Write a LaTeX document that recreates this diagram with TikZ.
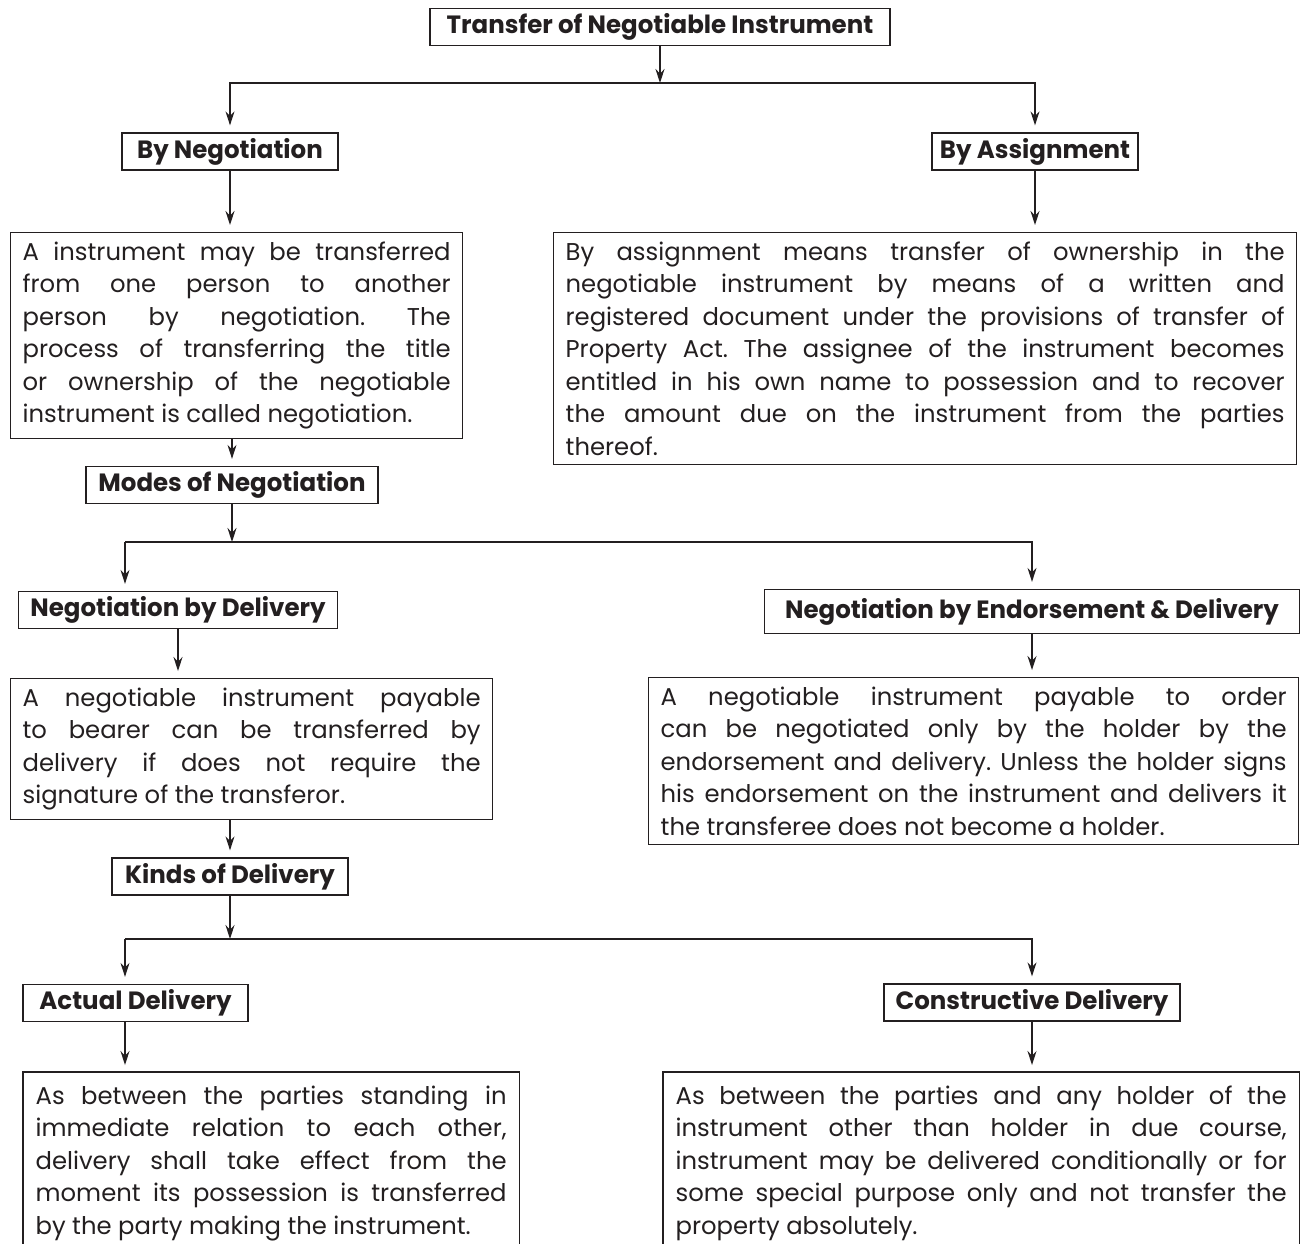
\documentclass[tikz,border=0pt]{standalone}
\usepackage{fontspec}
\setmainfont{Poppins}
\newfontfamily\headfont{Poppins}[FakeStretch=0.98]
\usetikzlibrary{arrows.meta}
\definecolor{ink}{HTML}{231F20}

\begin{document}
\begin{tikzpicture}[x=1pt,y=-1pt,line width=1.3pt,color=ink]
  \tikzstyle{h}=[draw,rectangle,inner sep=0pt,minimum height=37,font=\headfont\bfseries\fontsize{25}{28}\selectfont]
  \tikzstyle{t}=[draw,rectangle,anchor=north west,inner xsep=12pt,inner ysep=9pt,align=justify,
    font=\fontsize{24.3}{32.5}\selectfont,execute at begin node={\frenchspacing\hyphenpenalty=10000\tolerance=9999}]
  \tikzstyle{a}=[-{Stealth[length=14pt,width=9pt]},shorten >=7pt]
  \useasboundingbox (0,0) rectangle (1300,1243);
  \clip (0,0) rectangle (1300,1243);

  % headings
  \node[h,minimum width=460] (title) at (660,27) {Transfer of Negotiable Instrument};
  \node[h,minimum width=216] (byneg) at (230,151.5) {By Negotiation};
  \node[h,minimum width=206] (byass) at (1035,151.5) {By Assignment};
  \node[h,minimum width=292] (modes) at (232,485) {Modes of Negotiation};
  \node[h,minimum width=319] (nbd) at (178,610) {Negotiation by Delivery};
  \node[h,minimum width=535,minimum height=44] (nbed) at (1032,611.5) {Negotiation by Endorsement \& Delivery};
  \node[h,minimum width=236] (kinds) at (230,876.5) {Kinds of Delivery};
  \node[h,minimum width=225] (actual) at (135.5,1003) {Actual Delivery};
  \node[h,minimum width=296] (constr) at (1032,1002.5) {Constructive Delivery};

  % text boxes
  \node[t,text width=428] (tb1) at (10,232) {A instrument may be transferred\linebreak
    from one person to another\linebreak
    person by negotiation. The\linebreak
    process of transferring the title\linebreak
    or ownership of the negotiable\linebreak
    instrument is called negotiation.};
  \node[t,text width=719] (tb2) at (553,232) {By assignment means transfer of ownership in the\linebreak
    negotiable instrument by means of a written and\linebreak
    registered document under the provisions of transfer of\linebreak
    Property Act. The assignee of the instrument becomes\linebreak
    entitled in his own name to possession and to recover\linebreak
    the amount due on the instrument from the parties\linebreak
    thereof.};
  \node[t,text width=458] (tb3) at (10,678) {A negotiable instrument payable\linebreak
    to bearer can be transferred by\linebreak
    delivery if does not require the\linebreak
    signature of the transferor.};
  \node[t,text width=626] (tb4) at (648,677) {A negotiable instrument payable to order\linebreak
    can be negotiated only by the holder by the\linebreak
    endorsement and delivery. Unless the holder signs\linebreak
    his endorsement on the instrument and delivers it\linebreak
    the transferee does not become a holder.};
  % last row runs off the page
  \node[t,draw=none,text width=471,inner ysep=13pt] (tb5) at (23,1072) {As between the parties standing in\linebreak
    immediate relation to each other,\linebreak
    delivery shall take effect from the\linebreak
    moment its possession is transferred\linebreak
    by the party making the instrument.};
  \node[t,draw=none,text width=611,inner ysep=13pt] (tb6) at (663,1072) {As between the parties and any holder of the\linebreak
    instrument other than holder in due course,\linebreak
    instrument may be delivered conditionally or for\linebreak
    some special purpose only and not transfer the\linebreak
    property absolutely.};
  \draw ([yshift=-30pt]tb5.south west) rectangle (tb5.north east);
  \draw ([yshift=-30pt]tb6.south west) rectangle (tb6.north east);

  % junctions
  \coordinate (d1) at (125,542);
  \coordinate (d2) at (125,939);
  \coordinate (j1) at (660,83);
  \coordinate (j2) at (modes.south |- d1);
  \coordinate (j3) at (kinds.south |- d2);

  % connectors
  \draw[-{Stealth[length=14pt,width=9pt]}] (title) -- (j1);
  \draw[a] (j1) -| (byneg.north);
  \draw[a] (j1) -| (byass.north);
  \draw[a] (byneg) -- (byneg.south |- tb1.north);
  \draw[a] (byass) -- (byass.south |- tb2.north);
  \draw[a] (modes.north |- tb1.south) -- (modes);
  \draw[-{Stealth[length=14pt,width=9pt]}] (modes) -- (j2);
  \draw (j2) -- (d1);
  \draw[a] (d1) -- (d1 |- nbd.north);
  \draw[a] (j2) -| (nbed.north);
  \draw[a] (nbd) -- (nbd.south |- tb3.north);
  \draw[a] (nbed) -- (nbed.south |- tb4.north);
  \draw[a] (kinds.north |- tb3.south) -- (kinds);
  \draw[-{Stealth[length=14pt,width=9pt]}] (kinds) -- (j3);
  \draw (j3) -- (d2);
  \draw[a] (d2) -- (d2 |- actual.north);
  \draw[a] (j3) -| (constr.north);
  \draw[a] (d2 |- actual.south) -- (d2 |- tb5.north);
  \draw[a] (constr) -- (constr.south |- tb6.north);
\end{tikzpicture}
\end{document}
